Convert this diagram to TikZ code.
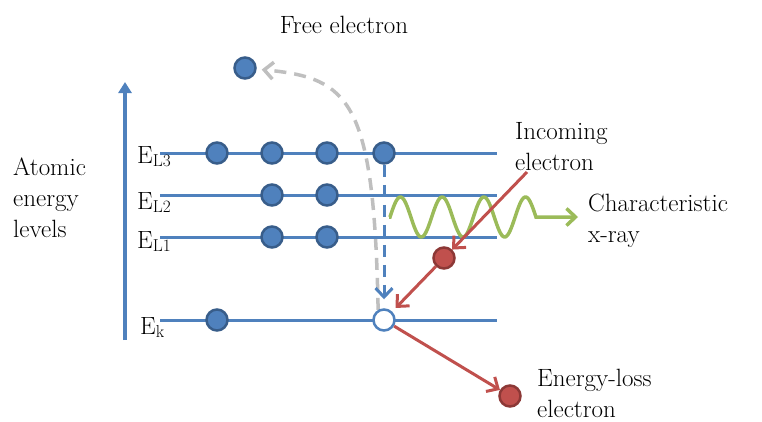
\documentclass[tikz,border=0pt]{standalone}
\usetikzlibrary{arrows.meta,backgrounds}
\definecolor{lvlblue}{RGB}{79,129,189}
\definecolor{lvldark}{RGB}{56,93,138}
\definecolor{elred}{RGB}{192,80,77}
\definecolor{elreddark}{RGB}{140,56,54}
\definecolor{xgreen}{RGB}{155,187,89}
\definecolor{pathgray}{RGB}{191,191,191}

\begin{document}
\begin{tikzpicture}[x=1pt,y=-1pt,>={Straight Barb[length=9pt,width=17pt]},
    font=\fontsize{25}{31}\selectfont,
    level/.style={draw=lvlblue,line width=3pt},
    electron/.style={circle,draw=lvldark,fill=lvlblue,line width=2.5pt,minimum size=21pt,inner sep=0pt},
    hole/.style={electron,fill=white,draw=lvlblue},
    redel/.style={electron,draw=elreddark,fill=elred},
    beam/.style={elred,line width=3pt},
    lbl/.style={align=left,anchor=base west,inner sep=0pt}]
    \useasboundingbox (0,0) rectangle (762,421);

    % axis and levels
    \coordinate (axbot) at (125,340);
    \coordinate (axtop) at (125,82);
    \draw[lvlblue,line width=3.5pt,-{Triangle[length=11pt,width=13pt]}] (axbot) -- (axtop);
    \foreach \y in {153,195,237,320}
        \draw[level] (160,\y) -- (497,\y);

    \node[lbl] (EL3) at (137,163) {$\mathrm{E}_{\mathrm{L3}}$};
    \node[lbl] (EL2) at (137,209) {$\mathrm{E}_{\mathrm{L2}}$};
    \node[lbl] (EL1) at (137,248) {$\mathrm{E}_{\mathrm{L1}}$};
    \node[lbl] (Ek) at (140,334) {$\mathrm{E}_{\mathrm{k}}$};

    % electrons
    \foreach \x in {217,272,327,384}
        \node[electron] (l3-\x) at (\x,153) {};
    \foreach \x in {272,327} {
        \node[electron] (l2-\x) at (\x,195) {};
        \node[electron] (l1-\x) at (\x,237) {};
    }
    \node[electron] (k-217) at (217,320) {};
    \node[hole] (hole) at (384,320) {};
    \node[electron] (free) at (245,68) {};
    \node[redel] (scat) at (444,258) {};
    \node[redel] (lost) at (510,396) {};

    \begin{scope}[on background layer]
        \draw[pathgray,line width=3.5pt,dash pattern=on 12pt off 8pt,->,shorten >=5pt]
            (hole.120) .. controls (374,100) and (350,78) .. (free);
    \end{scope}
    \draw[lvlblue,line width=3pt,dash pattern=on 12pt off 8pt,->,shorten >=9pt] (l3-384) -- (hole);

    % x-ray
    \coordinate (xs) at (389,217);
    \coordinate (xe) at (578,217);
    \draw[xgreen,line width=3.5pt,->] (xs) -- plot[domain=0:1260,samples=120] ({390+\x/360*41.7},{217-20*sin(\x)}) -- (xe);

    % incoming and scattered electron
    \coordinate (inc) at (527,172);
    \draw[beam,->] (inc) -- (scat);
    \draw[beam,->,shorten >=5pt] (scat) -- (hole);
    \draw[beam,->] (hole) -- (lost);

    % texts (base = last line)
    \node[anchor=base,inner sep=0pt] (freetxt) at (344,33) {Free electron};
    \node[lbl] (atomic) at (13,237) {Atomic\\energy\\levels};
    \node[lbl] (incoming) at (515,170) {Incoming\\electron};
    \node[lbl] (charx) at (588,242) {Characteristic\\x-ray};
    \node[lbl] (eloss) at (537,417) {Energy-loss\\electron};
\end{tikzpicture}
\end{document}
